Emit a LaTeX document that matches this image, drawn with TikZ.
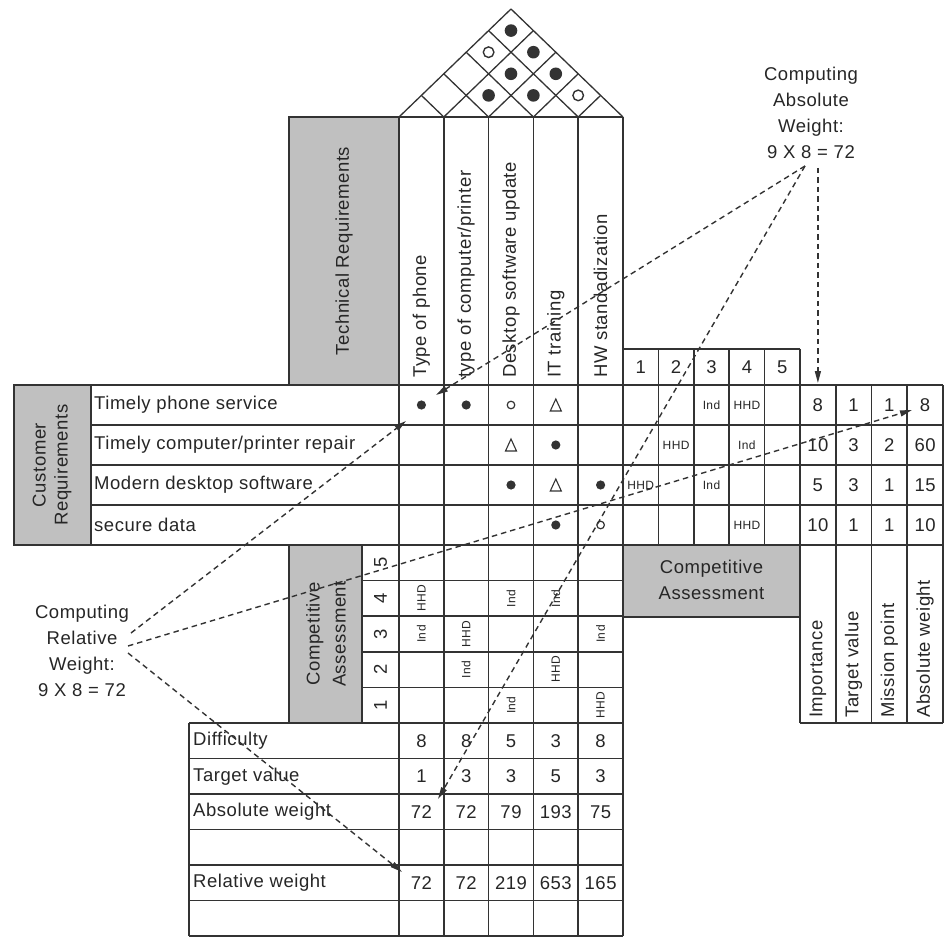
\documentclass[tikz,border=0pt]{standalone}
\usepackage{fontspec}
\setmainfont{Liberation Sans}[LetterSpace=3]
\usetikzlibrary{arrows.meta}
\definecolor{ink}{HTML}{333333}
\definecolor{lettering}{HTML}{262626}
\definecolor{panel}{HTML}{C0C0C0}
\newcommand{\bodyfont}{\fontsize{18.5}{26}\selectfont}
\newcommand{\cellfont}{\fontsize{12}{13}\selectfont}
\begin{document}
\begin{tikzpicture}[x=1pt,y=-1pt,
  rule/.style={draw=ink,line width=1.6pt},
  roofline/.style={draw=ink,line width=1.3pt},
  panelbox/.style={fill=panel,draw=ink,line width=1.6pt},
  txt/.style={font=\bodyfont,text=lettering,inner sep=0pt},
  vtxt/.style={txt,rotate=90,anchor=west},
  cellnote/.style={font=\cellfont,text=lettering,inner sep=0pt},
  note/.style={font=\bodyfont,text=lettering,align=center,inner sep=0pt},
  guide/.style={draw=ink,line width=1.4pt,dash pattern=on 5.5pt off 4pt,
    -{Triangle[length=12pt,width=6pt]}},
  weak/.style={draw=ink,line width=1.2pt},
  medium/.style={draw=ink,line width=1.1pt,line join=miter}
]
\useasboundingbox (0,0) rectangle (948,941);

% ---------- shaded header panels ----------
\draw[panelbox] (289,117) rectangle (399,385);
\draw[panelbox] (14,385) rectangle (91,545);
\draw[panelbox] (289,545) rectangle (362,723);
\draw[panelbox] (623,545) rectangle (800,617);

\node[txt,rotate=90] (techhead) at (344,251) {Technical Requirements};
\node[txt,rotate=90,align=center,font=\fontsize{18.5}{22}\selectfont] (custhead) at (52,465) {Customer\\Requirements};
\node[txt,rotate=90,align=center] (comphead) at (326,634) {Competitive\\Assessment};
\node[txt,align=center] (comphead2) at (711.5,580) {Competitive\\Assessment};

% ---------- roof (correlation matrix) ----------
\foreach \k in {0,...,4}
  \draw[roofline] ({399+44.8*\k},117) -- ({(399+44.8*\k+623)/2},{117-(5-\k)*21.6});
\foreach \k in {1,...,5}
  \draw[roofline] ({399+44.8*\k},117) -- ({(399+44.8*\k+399)/2},{117-\k*21.6});
% strong correlations
\foreach \p/\q in {511/30.6, 533.4/52.2, 511/73.8, 555.8/73.8, 488.6/95.4, 533.4/95.4}
  \fill[ink] (\p,\q) circle (6.3pt);
% weak correlations
\foreach \p/\q in {488.6/52.2, 578.2/95.4}
  \draw[ink,line width=1.4pt] (\p,\q) circle (5.3pt);

% ---------- grid lines ----------
% horizontals
\draw[rule] (289,117) -- (623,117);
\draw[rule] (623,349) -- (800,349);
\draw[rule] (14,385) -- (943,385);
\foreach \y in {425,465,505} \draw[rule] (91,\y) -- (943,\y);
\draw[rule] (14,545) -- (943,545);
\foreach \y in {580.6,616.2,651.8,687.4} \draw[rule] (362,\y) -- (623,\y);
\draw[rule] (189,723) -- (623,723);
\draw[rule] (800,723) -- (943,723);
\foreach \y in {758.5,794,829.5,865,900.5,936} \draw[rule] (189,\y) -- (623,\y);
% verticals
\draw[rule] (189,723) -- (189,936);
\draw[rule] (362,545) -- (362,723);
\foreach \k in {0,...,5} \draw[rule] ({399+44.8*\k},117) -- ({399+44.8*\k},936);
\foreach \k in {1,...,4} \draw[rule] ({623+35.4*\k},349) -- ({623+35.4*\k},545);
\draw[rule] (800,349) -- (800,723);
\foreach \k in {1,...,4} \draw[rule] ({800+35.75*\k},385) -- ({800+35.75*\k},723);

% ---------- technical requirements ----------
\node[vtxt] (tr1) at (421.4,378) {Type of phone};
\node[vtxt] (tr2) at (466.2,378) {type of computer/printer};
\node[vtxt] (tr3) at (511.0,378) {Desktop software update};
\node[vtxt] (tr4) at (555.8,378) {IT training};
\node[vtxt] (tr5) at (600.6,378) {HW standadization};

% ---------- customer requirements ----------
\node[txt,anchor=west] (cr1) at (94,405) {Timely phone service};
\node[txt,anchor=west] (cr2) at (94,445) {Timely computer/printer repair};
\node[txt,anchor=west] (cr3) at (94,485) {Modern desktop software};
\node[txt,anchor=west] (cr4) at (94,525) {secure data};

% ---------- relationship matrix ----------
\foreach \c/\r in {1/1,2/1,4/2,3/3,5/3,4/4}
  \fill[ink] ({399+44.8*(\c-0.5)},{385+40*(\r-0.5)}) circle (4.6pt);
\foreach \c/\r in {3/1,5/4}
  \draw[weak] ({399+44.8*(\c-0.5)},{385+40*(\r-0.5)}) circle (3.8pt);
\foreach \c/\r in {4/1,3/2,4/3}
  \draw[medium] ({399+44.8*(\c-0.5)-5.5},{385+40*(\r-0.5)+6})
    -- ({399+44.8*(\c-0.5)+5.5},{385+40*(\r-0.5)+6})
    -- ({399+44.8*(\c-0.5)},{385+40*(\r-0.5)-6}) -- cycle;

% ---------- customer competitive rating ----------
\foreach \c in {1,...,5}
  \node[txt] (scale\c) at ({623+35.4*(\c-0.5)},367.5) {\c};
\foreach \c/\r in {3/1,4/2,3/3}
  \node[cellnote] at ({623+35.4*(\c-0.5)},{385+40*(\r-0.5)}) {Ind};
\foreach \c/\r in {4/1,2/2,1/3,4/4}
  \node[cellnote] at ({623+35.4*(\c-0.5)},{385+40*(\r-0.5)}) {HHD};

% ---------- planning columns ----------
\foreach \v [count=\c] in {8,1,1,8}
  \node[txt] (pa\c) at ({800+35.75*(\c-0.5)},405) {\v};
\foreach \v [count=\c] in {10,3,2,60}
  \node[txt] (pb\c) at ({800+35.75*(\c-0.5)},445) {\v};
\foreach \v [count=\c] in {5,3,1,15}
  \node[txt] (pc\c) at ({800+35.75*(\c-0.5)},485) {\v};
\foreach \v [count=\c] in {10,1,1,10}
  \node[txt] (pd\c) at ({800+35.75*(\c-0.5)},525) {\v};
\node[vtxt] (ph1) at (817.9,718) {Importance};
\node[vtxt] (ph2) at (853.6,718) {Target value};
\node[vtxt] (ph3) at (889.4,718) {Mission point};
\node[vtxt] (ph4) at (925.1,718) {Absolute weight};

% ---------- technical competitive assessment ----------
\foreach \n [count=\i] in {5,4,3,2,1}
  \node[txt,rotate=90] (lev\n) at (380.5,{545+35.6*(\i-0.5)}) {\n};
\foreach \c/\i in {3/2,4/2,1/3,5/3,2/4,3/5}
  \node[cellnote,rotate=90] at ({399+44.8*(\c-0.5)},{545+35.6*(\i-0.5)}) {Ind};
\foreach \c/\i in {1/2,2/3,4/4,5/5}
  \node[cellnote,rotate=90] at ({399+44.8*(\c-0.5)},{545+35.6*(\i-0.5)}) {HHD};

% ---------- target / weight table ----------
\node[txt,anchor=west] (rowdiff) at (193,740.75) {Difficulty};
\node[txt,anchor=west] (rowtarget) at (193,776.25) {Target value};
\node[txt,anchor=west] (rowabs) at (193,811.75) {Absolute weight};
\node[txt,anchor=west] (rowrel) at (193,882.75) {Relative weight};
\foreach \v [count=\c] in {8,8,5,3,8}
  \node[txt] (df\c) at ({399+44.8*(\c-0.5)},740.75) {\v};
\foreach \v [count=\c] in {1,3,3,5,3}
  \node[txt] (tv\c) at ({399+44.8*(\c-0.5)},776.25) {\v};
\foreach \v [count=\c] in {72,72,79,193,75}
  \node[txt] (aw\c) at ({399+44.8*(\c-0.5)},811.75) {\v};
\foreach \v [count=\c] in {72,72,219,653,165}
  \node[txt] (rw\c) at ({399+44.8*(\c-0.5)},882.75) {\v};

% ---------- worked-example callouts ----------
\node[note] (absnote) at (811,113) {Computing\\Absolute\\Weight:\\9 X 8 = 72};
\node[note] (relnote) at (82,651) {Computing\\Relative\\Weight:\\9 X 8 = 72};

\coordinate (absfoot) at (805,166);
\coordinate (absdrop) at (817.9,168);
\coordinate (relhi) at (131,633);
\coordinate (relmid) at (128,646);
\coordinate (rello) at (128,653);

\coordinate (hitImp) at (817.9,383);
\coordinate (hitCellA) at (436,395);
\coordinate (hitCellB) at (406,421);
\coordinate (hitAbs) at (438,799);
\coordinate (hitWeight) at (912,410);
\coordinate (hitRel) at (402,872);

\draw[guide] (absdrop) -- (hitImp);
\draw[guide] (absfoot) -- (hitCellA);
\draw[guide] (absfoot) -- (hitAbs);
\draw[guide] (relhi) -- (hitCellB);
\draw[guide] (relmid) -- (hitWeight);
\draw[guide] (rello) -- (hitRel);
\end{tikzpicture}
\end{document}
